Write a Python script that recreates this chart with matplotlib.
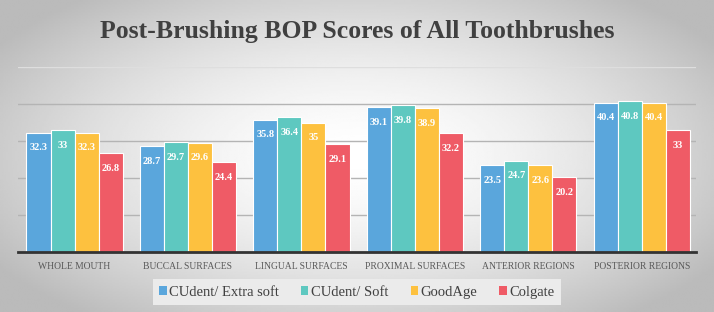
import matplotlib.pyplot as plt
import numpy as np
from matplotlib.patches import Patch

categories = ["WHOLE MOUTH", "BUCCAL SURFACES", "LINGUAL SURFACES",
              "PROXIMAL SURFACES", "ANTERIOR REGIONS", "POSTERIOR REGIONS"]
series_names = ["CUdent/ Extra soft", "CUdent/ Soft", "GoodAge", "Colgate"]
extra_soft = [32.3, 28.7, 35.8, 39.1, 23.5, 40.4]
soft = [33, 29.7, 36.4, 39.8, 24.7, 40.8]
goodage = [32.3, 29.6, 35, 38.9, 23.6, 40.4]
colgate = [26.8, 24.4, 29.1, 32.2, 20.2, 33]
series = [extra_soft, soft, goodage, colgate]

COLORS = ["#5aa6dc", "#5ec8c0", "#fdc13f", "#ef5b66"]
SERIF = ["Liberation Serif", "DejaVu Serif"]

fig = plt.figure(figsize=(7.14, 3.12), dpi=100)

# radial grey background
bg = fig.add_axes([0, 0, 1, 1], zorder=-10)
yy, xx = np.mgrid[-1:1:200j, -1:1:400j]
r = np.sqrt((xx / 1.0) ** 2 + (yy / 1.1) ** 2)
shade = 1.0 - 0.2 * np.clip(r, 0, 1.2) ** 1.6
bg.imshow(shade, cmap="gray", vmin=0, vmax=1, aspect="auto",
          extent=[0, 1, 0, 1], interpolation="bilinear")
bg.set_xlim(0, 1)
bg.set_ylim(0, 1)
bg.axis("off")

ax = fig.add_axes([0.025, 0.192, 0.95, 0.593])
ax.set_facecolor("none")

x = np.arange(len(categories))
width = 0.212
for i, (vals, color) in enumerate(zip(series, COLORS)):
    pos = x + (i - 1.5) * width
    bars = ax.bar(pos, vals, width, color=color, edgecolor="white",
                  linewidth=0.8, zorder=3)
    for b, v in zip(bars, vals):
        ax.annotate(f"{v:g}", (b.get_x() + b.get_width() / 2, v),
                    xytext=(0, -11), textcoords="offset points",
                    ha="center", va="center", color="white",
                    fontsize=7.5, fontweight="bold", family=SERIF, zorder=4)

ax.set_xlim(-0.5, 5.48)
ax.set_ylim(0, 50)
ax.set_yticks([10, 20, 30, 40])
ax.grid(axis="y", color="#b4b4b4", linewidth=1, zorder=0)
ax.axhline(50, color="#dedede", linewidth=1, zorder=0)
ax.tick_params(axis="y", length=0, labelleft=False)
ax.tick_params(axis="x", length=0, pad=7)
ax.set_xticks(x)
ax.set_xticklabels(categories, fontsize=6.9, family=SERIF, color="#595959")
for s in ["top", "right", "left"]:
    ax.spines[s].set_visible(False)
ax.spines["bottom"].set_color("#333333")
ax.spines["bottom"].set_linewidth(2)
ax.spines["bottom"].set_zorder(5)

handles = [Patch(facecolor=c, edgecolor="none") for c in COLORS]
leg = fig.legend(handles, series_names, loc="center", bbox_to_anchor=(0.5, 0.064),
                 ncol=4, frameon=True, fancybox=False, handlelength=0.5,
                 handleheight=0.5, handletextpad=0.2, columnspacing=1.5,
                 prop={"family": SERIF, "size": 10.5}, borderpad=0.45)
leg.get_frame().set_facecolor("#ebebeb")
leg.get_frame().set_edgecolor("none")
leg.get_frame().set_alpha(1)
for t in leg.get_texts():
    t.set_color("#404040")

fig.text(0.5, 0.9, "Post-Brushing BOP Scores of All Toothbrushes",
         ha="center", va="center", fontsize=18.5, fontweight="bold",
         family=SERIF, color="#404040")

fig.savefig("out.png", dpi=100)
